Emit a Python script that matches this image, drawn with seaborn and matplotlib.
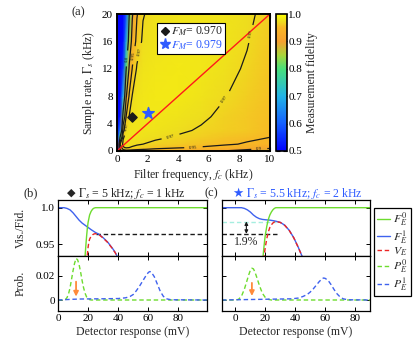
import numpy as np
import matplotlib
matplotlib.use("Agg")
import matplotlib.pyplot as plt
import seaborn as sns
from matplotlib.colors import LinearSegmentedColormap
from matplotlib.lines import Line2D

# ---------------- data: panel (a) fidelity map ----------------
fc_grid = [0, 0.2, 0.4, 0.6, 0.8, 1.0, 1.3, 1.7, 2.5, 4, 5.5, 7, 8.5, 10]
gs_grid = [0, 0.25, 0.5, 1, 2, 3, 5, 8, 12, 16, 20]
fid_rows = [
    [0.50, 0.85, 0.930, 0.940, 0.940, 0.938, 0.935, 0.932, 0.928, 0.922, 0.912, 0.898, 0.880, 0.860],
    [0.50, 0.90, 0.955, 0.960, 0.958, 0.956, 0.954, 0.951, 0.947, 0.942, 0.935, 0.922, 0.905, 0.885],
    [0.50, 0.93, 0.968, 0.972, 0.970, 0.968, 0.965, 0.962, 0.957, 0.952, 0.948, 0.942, 0.932, 0.915],
    [0.50, 0.95, 0.974, 0.975, 0.975, 0.974, 0.972, 0.970, 0.966, 0.961, 0.957, 0.953, 0.948, 0.945],
    [0.50, 0.80, 0.968, 0.976, 0.977, 0.977, 0.977, 0.976, 0.973, 0.968, 0.963, 0.958, 0.954, 0.950],
    [0.50, 0.64, 0.940, 0.972, 0.977, 0.978, 0.978, 0.978, 0.977, 0.973, 0.968, 0.964, 0.959, 0.953],
    [0.50, 0.52, 0.840, 0.952, 0.971, 0.976, 0.978, 0.979, 0.980, 0.978, 0.973, 0.966, 0.960, 0.955],
    [0.50, 0.50, 0.700, 0.895, 0.955, 0.971, 0.977, 0.979, 0.981, 0.981, 0.977, 0.971, 0.963, 0.957],
    [0.50, 0.50, 0.560, 0.800, 0.910, 0.952, 0.972, 0.978, 0.980, 0.981, 0.979, 0.975, 0.968, 0.958],
    [0.50, 0.50, 0.515, 0.680, 0.850, 0.922, 0.960, 0.973, 0.978, 0.980, 0.979, 0.977, 0.971, 0.960],
    [0.50, 0.50, 0.505, 0.580, 0.800, 0.895, 0.948, 0.969, 0.976, 0.978, 0.978, 0.977, 0.974, 0.963],
]
contour_levels = [0.8, 0.9, 0.95, 0.97]
red_fc = [0, 10]
red_gs = [0, 20]
diamond_pt = (1.0, 5.0)
star_pt = (2.0, 5.5)
fm_labels = ["$F_M$= 0.970", "$F_M$= 0.979"]

# ---------------- data: panel (b) ----------------
b_F0_x = [17, 17.5, 18, 18.5, 19, 19.5, 20, 21, 22, 23, 24, 25, 26, 99]
b_F0_y = [0.905, 0.92, 0.934, 0.948, 0.961, 0.972, 0.980, 0.990, 0.995, 0.998, 0.9995, 1.0, 1.0, 1.0]
b_F1_x = [0, 4, 6, 8, 10, 12, 14, 16, 18, 20, 22, 25, 27, 30, 33, 36, 38, 40, 42]
b_F1_y = [1.0, 1.0, 0.999, 0.997, 0.993, 0.988, 0.983, 0.979, 0.976, 0.973, 0.970, 0.966, 0.964, 0.959, 0.953, 0.945, 0.939, 0.931, 0.922]
b_V_x = [19, 19.5, 20, 20.5, 21, 22, 23, 24, 25, 27, 30, 33, 36, 38, 40, 42]
b_V_y = [0.925, 0.936, 0.946, 0.953, 0.957, 0.961, 0.963, 0.9642, 0.9645, 0.9635, 0.9585, 0.9525, 0.9445, 0.9385, 0.9305, 0.9215]
b_ref_x = [25, 99]
b_ref_y = [0.9645, 0.9645]
b_P0_x = [0, 4, 5, 6, 7, 8, 9, 10, 11, 12, 13, 14, 15, 16, 17, 18, 19, 20, 21, 22, 99]
b_P0_y = [0, 0, 0.0005, 0.002, 0.005, 0.010, 0.017, 0.024, 0.030, 0.034, 0.033, 0.029, 0.023, 0.016, 0.010, 0.0055, 0.0025, 0.001, 0.0003, 0, 0]
b_P1_x = [0, 5, 10, 15, 20, 30, 40, 45, 48, 50, 52, 54, 56, 58, 60, 61, 62, 64, 66, 68, 70, 72, 75, 99]
b_P1_y = [0, 0.0003, 0.0006, 0.0008, 0.0009, 0.001, 0.0012, 0.0018, 0.003, 0.0045, 0.0075, 0.011, 0.015, 0.019, 0.0225, 0.0233, 0.0228, 0.019, 0.013, 0.007, 0.003, 0.001, 0.0002, 0]

# ---------------- data: panel (c) ----------------
c_F0_x = [18, 18.5, 19, 19.5, 20, 21, 22, 23, 24, 25, 26, 27, 28, 90]
c_F0_y = [0.925, 0.934, 0.945, 0.955, 0.963, 0.975, 0.984, 0.990, 0.994, 0.997, 0.999, 1.0, 1.0, 1.0]
c_F1_x = [-9, 0, 4, 6, 8, 10, 12, 14, 16, 18, 20, 23, 26, 28, 30, 33, 36, 39, 42, 44.5, 46]
c_F1_y = [1.0, 1.0, 1.0, 0.999, 0.997, 0.994, 0.990, 0.987, 0.985, 0.984, 0.9835, 0.983, 0.982, 0.981, 0.980, 0.976, 0.969, 0.959, 0.946, 0.934, 0.925]
c_V_x = [19, 19.5, 20, 21, 22, 23, 24, 25, 26, 27, 28, 30, 33, 36, 39, 42, 44.5, 46]
c_V_y = [0.929, 0.939, 0.9465, 0.958, 0.967, 0.973, 0.9765, 0.979, 0.9805, 0.981, 0.9808, 0.9798, 0.9758, 0.9688, 0.9588, 0.9458, 0.9338, 0.9248]
c_best_x = [-9, 27]
c_best_y = [0.981, 0.981]
c_ref_x = [-9, 28]
c_ref_y = [0.9645, 0.9645]
c_P0_x = [-9, 0, 2, 4, 6, 8, 9, 10, 11, 12, 13, 14, 16, 18, 20, 22, 24, 90]
c_P0_y = [0, 0, 0.0005, 0.003, 0.009, 0.017, 0.021, 0.0245, 0.026, 0.0255, 0.023, 0.0195, 0.012, 0.0055, 0.002, 0.0005, 0, 0]
c_P1_x = [-9, 0, 10, 20, 30, 38, 42, 45, 48, 50, 52, 54, 56, 58, 59, 60, 62, 64, 66, 68, 70, 72, 75, 90]
c_P1_y = [0, 0.0002, 0.0004, 0.0006, 0.0008, 0.001, 0.0016, 0.0028, 0.0045, 0.0065, 0.009, 0.012, 0.015, 0.0175, 0.018, 0.0177, 0.016, 0.0125, 0.0085, 0.005, 0.0025, 0.001, 0.0002, 0]

legend_labels = ["$F_E^0$", "$F_E^1$", "$V_E$", "$P_E^0$", "$P_E^1$"]

# ---------------- style ----------------
sns.set_theme(style="ticks")
plt.rcParams["font.family"] = ["Liberation Serif", "DejaVu Sans"]
plt.rcParams["mathtext.fontset"] = "stix"
plt.rcParams["axes.edgecolor"] = "black"
plt.rcParams["xtick.color"] = "black"
plt.rcParams["ytick.color"] = "black"
plt.rcParams["xtick.direction"] = "in"
plt.rcParams["ytick.direction"] = "in"
plt.rcParams["axes.linewidth"] = 0.9

GREEN = "#6ddc2e"
BLUE = "#3f62ee"
RED = "#ec2424"
CYAN = "#a5eee0"
ORANGE = "#ff8a3c"
STARBLUE = "#2f5cff"

W, H = 415, 342
fig = plt.figure(figsize=(W / 100, H / 100), dpi=100)


def box(x0, y0, x1, y1):
    return [x0 / W, 1 - y1 / H, (x1 - x0) / W, (y1 - y0) / H]


# ---------------- panel (a) ----------------
cmap = LinearSegmentedColormap.from_list("fid", [
    (0.0, "#0000ff"), (0.2, "#1560ff"), (0.4, "#22b4e6"), (0.6, "#48e07a"),
    (0.7, "#a9d63a"), (0.8, "#f5a030"), (0.9, "#f8b626"), (0.95, "#eedf1e"),
    (1.0, "#ffff00")])
fid = np.array(fid_rows)
axa = fig.add_axes(box(117, 14, 270, 151))
mesh = axa.pcolormesh(fc_grid, gs_grid, fid, shading="gouraud", cmap=cmap,
                      vmin=0.5, vmax=1.0, rasterized=True)
cs = axa.contour(fc_grid, gs_grid, fid, levels=contour_levels, colors="k",
                 linewidths=0.9)
axa.clabel(cs, fmt="%g", fontsize=3.5, inline=True,
           manual=[(0.72, 13.5), (1.0, 14.0), (1.35, 14.5), (0.75, 3.5),
                   (3.5, 2.1), (7.1, 7.5), (8.9, 17.0), (5.0, 0.5), (9.3, 0.3)])
sns.lineplot(x=red_fc, y=red_gs, ax=axa, color="#ff1a1a", linewidth=1.0)
axa.scatter([diamond_pt[0]], [diamond_pt[1]], marker="D", color="k", s=22, zorder=5)
axa.scatter([star_pt[0]], [star_pt[1]], marker="*", color=STARBLUE, s=75, zorder=5)
axa.set_xlim(0, 10)
axa.set_ylim(0, 20)
axa.set_xticks([0, 2, 4, 6, 8, 10])
axa.set_yticks([0, 4, 8, 12, 16, 20])
axa.tick_params(top=True, right=True, length=3, width=0.8, labelsize=8, pad=3)
axa.set_xlabel("Filter frequency, $f_c$ (kHz)", fontsize=8.5, labelpad=2)
axa.set_ylabel("Sample rate, $\\Gamma_s$ (kHz)", fontsize=8.5, labelpad=3)
for s in axa.spines.values():
    s.set_linewidth(1.4)
handles = [Line2D([], [], marker="D", color="k", ls="", ms=4.5),
           Line2D([], [], marker="*", color=STARBLUE, ls="", ms=8)]
leg = axa.legend(handles, fm_labels, loc="upper left",
                 bbox_to_anchor=((157 - 117) / 153, (151 - 23) / 137),
                 fontsize=8.5, frameon=True, fancybox=False, framealpha=1,
                 edgecolor="black", borderpad=0.15, handletextpad=0.05,
                 handlelength=1.0, labelspacing=0.0, borderaxespad=0)
leg.get_frame().set_linewidth(0.8)
leg.get_texts()[1].set_color(STARBLUE)

cax = fig.add_axes(box(276, 14, 287, 151))
cb = fig.colorbar(mesh, cax=cax, ticks=[0.5, 0.6, 0.7, 0.8, 0.9, 1.0])
cb.ax.set_yticklabels(["0.5", "0.6", "0.7", "0.8", "0.9", "1.0"])
cb.ax.tick_params(direction="in", left=True, right=True, length=3, width=0.8,
                  labelsize=8, pad=1)
cb.outline.set_linewidth(1.2)
cb.set_label("Measurement fidelity", fontsize=8.5, labelpad=3)
fig.text(78 / W, 1 - 12 / H, "(a)", ha="center", va="center", fontsize=9)

# ---------------- panels (b) and (c) ----------------
axb1 = fig.add_axes(box(58, 200, 207, 256))
axb2 = fig.add_axes(box(58, 256, 207, 311))
axc1 = fig.add_axes(box(222, 200, 370, 256))
axc2 = fig.add_axes(box(222, 256, 370, 311))

dash = (0, (3.2, 2.0))


def line(ax, x, y, color, ls="-", lw=1.0, z=2):
    sns.lineplot(x=x, y=y, ax=ax, color=color, linestyle=ls, linewidth=lw,
                 estimator=None, sort=False, zorder=z)


# (b) top
line(axb1, b_ref_x, b_ref_y, "k", dash, 1.0)
line(axb1, b_F1_x, b_F1_y, BLUE)
line(axb1, b_F0_x, b_F0_y, GREEN)
line(axb1, b_V_x, b_V_y, RED, dash, 1.0, 3)
# (b) bottom
line(axb2, b_P0_x, b_P0_y, GREEN, dash)
line(axb2, b_P1_x, b_P1_y, BLUE, dash)
axb2.annotate("", xy=(12, 0.0028), xytext=(12, 0.0150),
              arrowprops=dict(arrowstyle="-|>", color=ORANGE, lw=1.3,
                              mutation_scale=7, shrinkA=0, shrinkB=0))

# (c) top
line(axc1, c_best_x, c_best_y, CYAN, dash, 1.0)
line(axc1, c_ref_x, c_ref_y, "k", dash, 1.0)
line(axc1, c_F1_x, c_F1_y, BLUE)
line(axc1, c_F0_x, c_F0_y, GREEN)
line(axc1, c_V_x, c_V_y, RED, dash, 1.0, 3)
axc1.annotate("", xy=(7.3, 0.9812), xytext=(7.3, 0.9643),
              arrowprops=dict(arrowstyle="<|-|>", color="k", lw=0.8,
                              mutation_scale=5, shrinkA=0, shrinkB=0))
axc1.text(7.0, 0.9535, "1.9%", ha="center", va="center", fontsize=8.5)
# (c) bottom
line(axc2, c_P0_x, c_P0_y, GREEN, dash)
line(axc2, c_P1_x, c_P1_y, BLUE, dash)
axc2.annotate("", xy=(11, 0.0033), xytext=(11, 0.0140),
              arrowprops=dict(arrowstyle="-|>", color=ORANGE, lw=1.3,
                              mutation_scale=7, shrinkA=0, shrinkB=0))

for ax, xl in [(axb1, (0, 99)), (axb2, (0, 99)), (axc1, (-9, 90)), (axc2, (-9, 90))]:
    ax.set_xlim(*xl)
    ax.set_xticks([0, 20, 40, 60, 80])
    ax.tick_params(top=True, right=True, length=3, width=0.7, labelsize=8, pad=2)
    ax.set_xlabel("")
    ax.set_ylabel("")
for ax in (axb1, axc1):
    ax.set_ylim(0.934, 1.0105)
    ax.set_yticks([0.95, 1.0])
    ax.set_yticklabels(["0.95", "1.0"])
    ax.tick_params(labelbottom=False)
for ax in (axb2, axc2):
    ax.set_ylim(-0.009, 0.036)
    ax.set_yticks([0, 0.02])
    ax.set_yticklabels(["0", "0.02"])
    ax.set_xlabel("Detector response (mV)", fontsize=8.5, labelpad=2)
for ax in (axc1, axc2):
    ax.tick_params(labelleft=False)

axb1.set_ylabel("Vis./Fid.", fontsize=8.5)
axb2.set_ylabel("Prob.", fontsize=8.5)
axb1.yaxis.set_label_coords(-0.21, 0.5)
axb2.yaxis.set_label_coords(-0.21, 0.5)

fig.text(31 / W, 1 - 193 / H, "(b)", ha="center", va="center", fontsize=9)
fig.text(211 / W, 1 - 193 / H, "(c)", ha="center", va="center", fontsize=9)
fig.text(71 / W, 1 - 193 / H, "◆", ha="center", va="center", fontsize=8,
         family="DejaVu Sans")
fig.text(78 / W, 1 - 193 / H, "$\\Gamma_s$ = 5 kHz; $f_c$ = 1 kHz",
         ha="left", va="center", fontsize=8.5)
fig.text(238 / W, 1 - 193 / H, "★", ha="center", va="center", fontsize=9,
         family="DejaVu Sans", color=STARBLUE)
fig.text(246 / W, 1 - 193 / H, "$\\Gamma_s$ = 5.5 kHz; $f_c$ = 2 kHz",
         ha="left", va="center", fontsize=8.5, color=STARBLUE)

leg_handles = [Line2D([], [], color=GREEN, lw=1.0),
               Line2D([], [], color=BLUE, lw=1.0),
               Line2D([], [], color=RED, lw=1.0, ls=dash),
               Line2D([], [], color=GREEN, lw=1.0, ls=dash),
               Line2D([], [], color=BLUE, lw=1.0, ls=dash)]
fl = fig.legend(leg_handles, legend_labels, loc="upper left",
                bbox_to_anchor=(374 / W, 1 - 208 / H), fontsize=8.5,
                frameon=True, fancybox=False, framealpha=1, edgecolor="black",
                borderpad=0.25, handlelength=1.1, handletextpad=0.3,
                labelspacing=0.0, borderaxespad=0)
fl.get_frame().set_linewidth(0.9)

fig.savefig("out.png", dpi=100)
